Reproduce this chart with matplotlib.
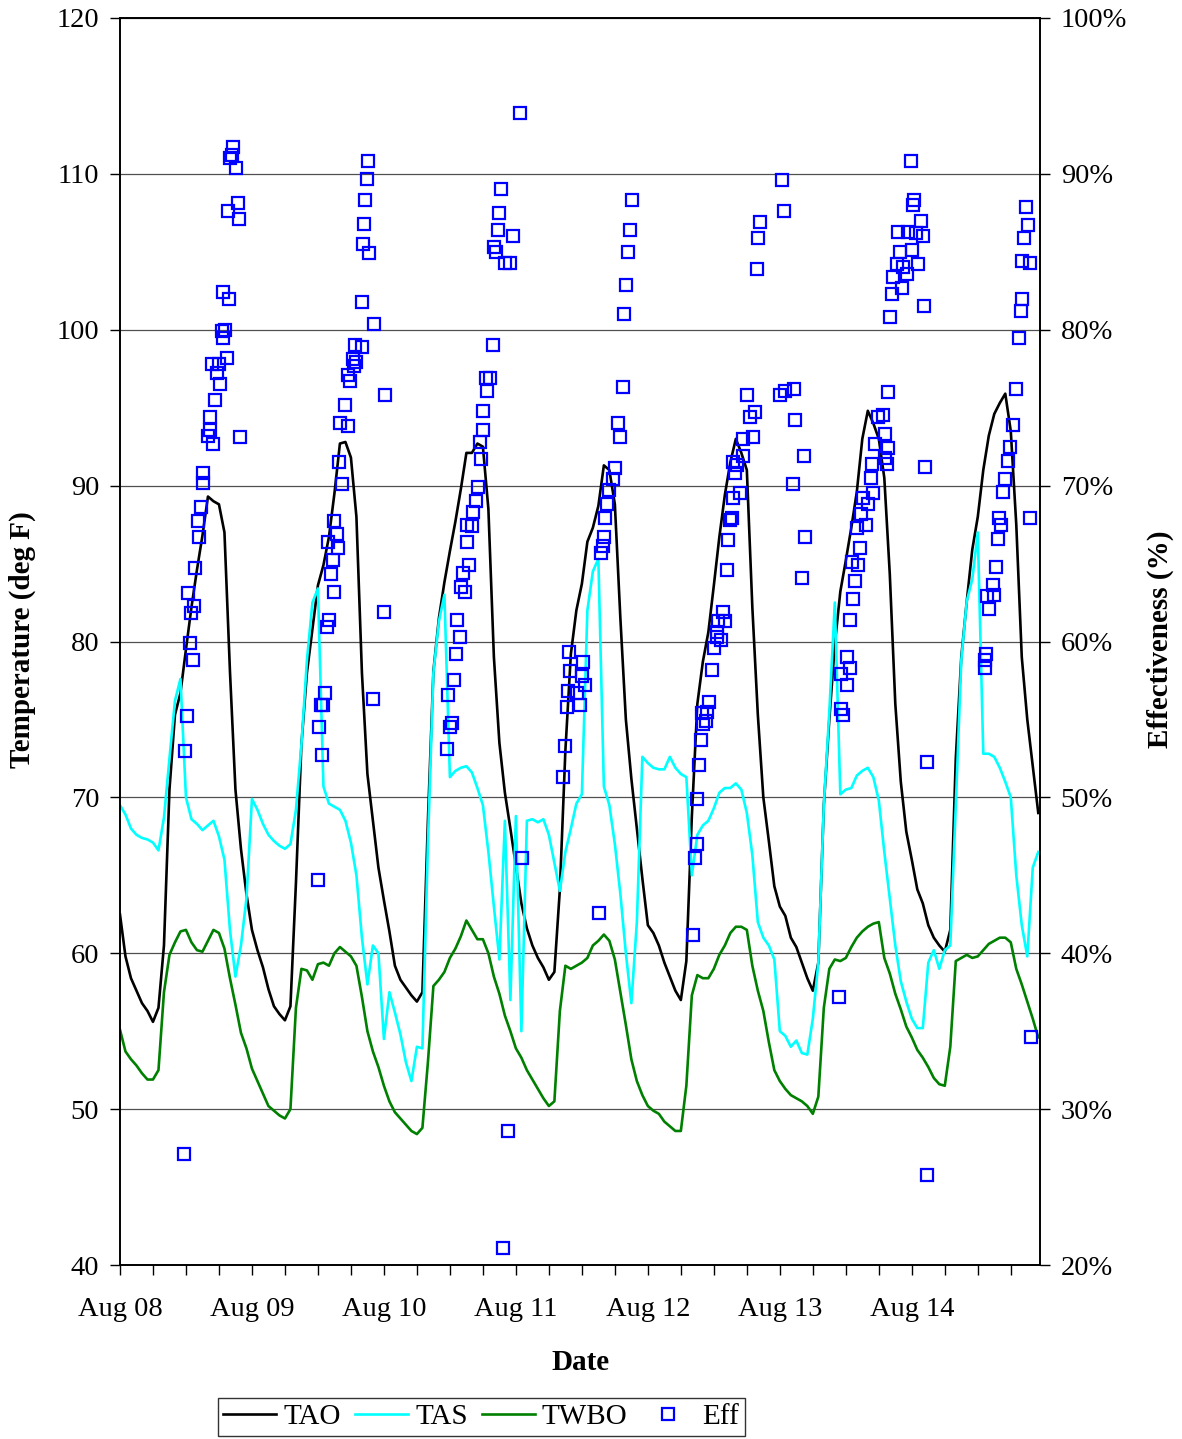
import numpy as np
import matplotlib
matplotlib.use("Agg")
import matplotlib.pyplot as plt

plt.rcParams['font.family'] = ['Liberation Serif', 'DejaVu Serif']

# ---------------- data (hourly, hour 0 = Aug 08 00:00) ----------------
day_labels = ['Aug 08', 'Aug 09', 'Aug 10', 'Aug 11', 'Aug 12', 'Aug 13', 'Aug 14']
hours = np.arange(168)

TAO = [
    62.5, 59.8, 58.4, 57.6, 56.8, 56.3, 55.6, 56.5, 60.5, 70.5,
    75.3, 76.7, 79.5, 82.2, 84.6, 86.8, 89.3, 89.0, 88.8, 87.0,
    78.1, 70.5, 66.7, 63.8, 61.5, 60.2, 59.1, 57.7, 56.6, 56.1,
    55.7, 56.6, 64.5, 73.4, 78.0, 80.8, 83.6, 84.9, 86.7, 89.5,
    92.7, 92.8, 91.8, 88.0, 78.0, 71.5, 68.5, 65.5, 63.4, 61.4,
    59.2, 58.3, 57.8, 57.3, 56.9, 57.5, 68.5, 78.1, 81.5, 83.8,
    85.8, 87.7, 89.8, 92.1, 92.1, 92.7, 92.5, 88.5, 79.0, 73.5,
    70.3, 68.0, 65.6, 63.2, 61.6, 60.5, 59.7, 59.1, 58.3, 58.8,
    64.1, 73.0, 79.2, 82.0, 83.7, 86.4, 87.3, 88.7, 91.3, 91.0,
    88.8, 81.5, 75.0, 71.2, 68.0, 64.8, 61.8, 61.3, 60.5, 59.4,
    58.5, 57.6, 57.0, 59.5, 68.8, 76.0, 78.7, 80.6, 83.6, 86.7,
    89.4, 91.5, 93.0, 92.1, 91.0, 82.2, 75.3, 70.0, 67.2, 64.3,
    63.0, 62.4, 61.0, 60.4, 59.4, 58.4, 57.6, 59.4, 69.5, 75.0,
    79.8, 83.2, 85.2, 87.3, 89.6, 93.0, 94.8, 94.0, 93.0, 90.5,
    84.3, 76.0, 71.0, 67.8, 66.0, 64.1, 63.2, 61.8, 61.0, 60.5,
    60.1, 61.5, 72.5, 79.0, 82.6, 85.9, 88.0, 91.0, 93.2, 94.6,
    95.3, 95.9, 93.5, 87.5, 79.0, 75.0, 72.0, 69.0]

TAS = [
    69.5, 68.9, 68.0, 67.6, 67.4, 67.3, 67.1, 66.6, 68.7, 72.5,
    76.2, 77.6, 70.0, 68.6, 68.3, 67.9, 68.2, 68.5, 67.5, 66.0,
    61.5, 58.5, 60.5, 63.5, 69.9, 69.2, 68.3, 67.6, 67.2, 66.9,
    66.7, 67.0, 69.2, 73.4, 78.8, 82.5, 83.4, 70.7, 69.6, 69.4,
    69.2, 68.5, 67.1, 65.0, 61.0, 58.0, 60.5, 60.0, 54.5, 57.5,
    56.2, 54.8, 53.0, 51.8, 54.0, 53.9, 67.0, 78.0, 81.3, 83.0,
    71.3, 71.7, 71.9, 72.0, 71.6, 70.6, 69.5, 66.5, 63.0, 59.6,
    68.5, 57.0, 68.8, 55.0, 68.5, 68.6, 68.4, 68.6, 67.6, 65.8,
    64.0, 66.5, 68.0, 69.6, 70.2, 82.0, 84.5, 85.3, 70.7, 69.5,
    67.0, 63.8, 60.0, 56.8, 62.0, 72.6, 72.2, 71.9, 71.8, 71.8,
    72.6, 71.9, 71.5, 71.3, 65.0, 67.6, 68.2, 68.5, 69.3, 70.3,
    70.6, 70.6, 70.9, 70.5, 69.0, 66.3, 62.0, 61.0, 60.5, 59.6,
    55.0, 54.7, 54.0, 54.4, 53.6, 53.5, 55.8, 59.4, 69.5, 75.5,
    82.5, 70.2, 70.5, 70.6, 71.4, 71.7, 71.9, 71.3, 69.8, 66.5,
    63.5, 60.5, 58.2, 56.9, 55.8, 55.2, 55.2, 59.4, 60.2, 59.0,
    60.2, 60.5, 69.5, 78.8, 82.6, 84.0, 87.0, 72.8, 72.8, 72.6,
    71.9, 71.0, 70.0, 65.0, 61.8, 59.8, 65.5, 66.5]

TWBO = [
    55.1, 53.7, 53.2, 52.8, 52.3, 51.9, 51.9, 52.5, 57.5, 59.9,
    60.7, 61.4, 61.5, 60.7, 60.2, 60.1, 60.8, 61.5, 61.3, 60.3,
    58.4, 56.7, 54.9, 53.9, 52.6, 51.8, 51.0, 50.2, 49.9, 49.6,
    49.4, 50.0, 56.5, 59.0, 58.9, 58.3, 59.3, 59.4, 59.2, 60.0,
    60.4, 60.1, 59.8, 59.2, 57.2, 55.0, 53.7, 52.7, 51.5, 50.5,
    49.8, 49.4, 49.0, 48.6, 48.4, 48.8, 53.0, 57.9, 58.3, 58.8,
    59.7, 60.3, 61.1, 62.1, 61.5, 60.9, 60.9, 60.0, 58.5, 57.4,
    56.0, 55.0, 53.9, 53.3, 52.5, 51.9, 51.3, 50.7, 50.2, 50.5,
    56.3, 59.2, 59.0, 59.2, 59.4, 59.7, 60.5, 60.8, 61.2, 60.8,
    59.6, 57.5, 55.4, 53.2, 51.8, 50.9, 50.2, 49.9, 49.7, 49.2,
    48.9, 48.6, 48.6, 51.5, 57.3, 58.6, 58.4, 58.4, 59.0, 59.9,
    60.5, 61.3, 61.7, 61.7, 61.5, 59.2, 57.6, 56.3, 54.3, 52.5,
    51.8, 51.3, 50.9, 50.7, 50.5, 50.2, 49.7, 50.8, 56.5, 59.0,
    59.6, 59.5, 59.7, 60.4, 61.0, 61.4, 61.7, 61.9, 62.0, 59.7,
    58.7, 57.4, 56.4, 55.3, 54.6, 53.8, 53.3, 52.7, 52.0, 51.6,
    51.5, 54.0, 59.5, 59.7, 59.9, 59.7, 59.8, 60.2, 60.6, 60.8,
    61.0, 61.0, 60.7, 59.0, 58.0, 56.9, 55.8, 54.6]

# Effectiveness points: time (hours from Aug 08 00:00) and value (%)
eff_time = [
    # Aug 08
    11.64, 11.82, 12.24, 12.42, 12.73, 12.85, 13.22, 13.45, 13.69, 14.24,
    14.42, 14.67, 15.04, 15.15, 16.05, 16.36, 16.36, 16.96, 17.33, 16.67,
    17.58, 18.05, 18.18, 18.49, 18.78, 19.09, 19.51, 18.67, 19.87, 19.69,
    20.00, 20.31, 20.49, 21.09, 21.51, 21.69, 21.82,
    # Aug 09
    36.05, 36.24, 36.55, 36.78, 36.96, 37.27, 37.69, 37.87, 37.95, 38.36,
    38.78, 38.91, 38.96, 39.40, 39.69, 39.76, 40.00, 40.42, 40.91, 41.51,
    41.51, 41.82, 42.31, 42.55, 42.73, 42.91, 43.95, 43.95, 44.13, 44.36,
    44.55, 44.85, 45.04, 45.33, 46.05, 46.18, 48.05, 48.18,
    # Aug 10
    59.40, 59.69, 60.00, 60.31, 60.73, 61.09, 61.33, 61.82, 61.95, 62.42,
    62.73, 63.04, 63.15, 63.51, 63.95, 64.24, 64.73, 65.15, 65.45, 65.58,
    65.95, 66.05, 66.55, 66.78, 67.27, 67.76, 68.00, 68.36, 68.67, 68.96,
    69.22, 69.69, 70.00, 70.49, 70.91, 71.51, 72.73, 73.04,
    # Aug 11
    80.60, 80.91, 81.22, 81.51, 81.64, 81.82, 83.04, 83.64, 83.95, 84.24,
    84.55, 87.15, 87.40, 87.76, 88.00, 88.18, 88.60, 88.96, 89.69, 90.00,
    90.60, 90.91, 91.40, 91.64, 92.00, 92.42, 92.73, 93.04,
    # Aug 12
    104.24, 104.55, 104.85, 104.96, 105.33, 105.58, 105.76, 106.05, 106.55, 106.67,
    107.15, 107.69, 108.00, 108.49, 108.60, 108.78, 109.22, 109.69, 110.00, 110.31,
    110.60, 110.91, 111.22, 111.40, 111.51, 111.82, 112.24, 112.73, 113.22, 113.33,
    113.95, 114.55, 115.15, 115.45, 115.76, 115.95, 116.36, 120.00, 120.31, 120.78,
    120.91, 122.31, 122.55, 122.73, 124.05, 124.42, 124.55,
    # Aug 13
    130.73, 131.09, 131.09, 131.51, 132.13, 132.13, 132.73, 132.73, 133.04, 133.33,
    133.76, 133.95, 134.24, 134.55, 134.85, 135.15, 135.76, 136.05, 136.55, 136.78,
    136.96, 137.27, 137.87, 138.78, 139.09, 139.09, 139.40, 139.69, 139.69, 140.00,
    140.31, 140.60, 141.22, 141.51, 141.82, 142.13, 142.42, 143.04, 143.33, 143.82,
    143.95, 144.24, 144.42, 144.85, 145.15, 145.76, 146.05, 146.24, 146.49, 146.78,
    146.85,
    # Aug 14
    157.27, 157.27, 157.58, 157.76, 158.00, 158.78, 158.96, 159.40, 159.69, 159.82,
    160.31, 160.60, 160.91, 161.51, 161.82, 162.42, 163.04, 163.45, 163.82, 163.95,
    164.05, 164.42, 164.85, 165.15, 165.45, 165.45, 165.76]

eff_value = [
    # Aug 08
    27.1, 53.0, 55.2, 63.1, 59.9, 61.8, 58.8, 62.3, 64.7, 67.7,
    66.7, 68.6, 70.8, 70.2, 73.2, 73.6, 74.4, 72.7, 75.5, 77.8,
    77.2, 77.8, 76.5, 79.9, 79.5, 80.0, 78.2, 82.4, 82.0, 87.6,
    91.0, 91.2, 91.7, 90.4, 88.1, 87.1, 73.1,
    # Aug 09
    44.7, 54.5, 55.9, 52.7, 55.9, 56.7, 60.9, 66.4, 61.4, 64.3,
    65.2, 63.2, 67.7, 66.9, 66.0, 71.5, 74.0, 70.1, 75.2, 73.8,
    77.1, 76.7, 78.1, 77.7, 79.0, 77.9, 78.9, 81.8, 85.5, 86.8,
    88.3, 89.7, 90.8, 84.9, 56.3, 80.4, 61.9, 75.8,
    # Aug 10
    53.1, 56.6, 54.5, 54.8, 57.5, 59.2, 61.4, 60.3, 63.5, 64.4,
    63.2, 67.5, 66.4, 64.9, 67.4, 68.3, 69.0, 69.9, 72.8, 71.7,
    73.6, 74.8, 76.9, 76.1, 76.9, 79.0, 85.3, 85.0, 86.4, 87.5,
    89.0, 21.1, 84.3, 28.6, 84.3, 86.0, 93.9, 46.1,
    # Aug 11
    51.3, 53.3, 55.8, 56.8, 59.3, 58.1, 56.7, 55.9, 57.8, 58.7,
    57.2, 42.6, 65.7, 66.1, 66.7, 67.9, 68.8, 69.7, 70.4, 71.1,
    74.0, 73.1, 76.3, 81.0, 82.9, 85.0, 86.4, 88.3,
    # Aug 12
    41.2, 46.1, 47.0, 49.9, 52.1, 53.7, 55.4, 54.7, 54.9, 55.5,
    56.1, 58.2, 59.6, 60.3, 60.6, 61.3, 60.1, 61.9, 61.3, 64.6,
    66.5, 67.8, 67.9, 69.2, 71.5, 70.8, 71.3, 69.5, 71.9, 73.0,
    75.8, 74.4, 73.1, 74.7, 83.9, 85.9, 86.9, 75.8, 89.6, 87.6,
    76.1, 70.1, 76.2, 74.2, 64.1, 71.9, 66.7,
    # Aug 13
    37.2, 55.7, 57.9, 55.3, 57.2, 59.0, 58.3, 61.4, 65.1, 62.7,
    63.9, 67.3, 64.9, 66.0, 68.2, 69.2, 67.5, 68.8, 70.5, 71.4,
    69.5, 72.7, 74.4, 74.5, 73.3, 71.8, 71.4, 72.4, 76.0, 80.8,
    82.3, 83.4, 84.2, 86.3, 85.0, 82.7, 84.0, 83.6, 86.3, 90.8,
    85.1, 88.0, 88.3, 86.2, 84.2, 87.0, 86.0, 81.5, 71.2, 52.3,
    25.8,
    # Aug 14
    58.3, 58.8, 59.2, 62.9, 62.1, 63.6, 63.0, 64.8, 66.6, 67.9,
    67.5, 69.6, 70.4, 71.6, 72.5, 73.9, 76.2, 79.5, 81.2, 82.0,
    84.4, 85.9, 87.9, 86.7, 84.3, 67.9, 34.6]

temp_ticks = [40, 50, 60, 70, 80, 90, 100, 110, 120]
eff_ticks = [20, 30, 40, 50, 60, 70, 80, 90, 100]

# ---------------- figure ----------------
fig = plt.figure(figsize=(11.82, 14.39), dpi=100)
ax = fig.add_axes([0.1015, 0.1209, 0.7783, 0.8666])

ax.set_xlim(0, 167.3)
ax.set_ylim(40, 120)
ax.set_yticks(temp_ticks)
ax.set_yticklabels([str(t) for t in temp_ticks])
ax.set_xticks(np.arange(0, 168, 24))
ax.set_xticklabels(day_labels)
ax.set_xticks(np.arange(0, 167, 6), minor=True)
ax.grid(axis='y', color='#505050', lw=0.9)
ax.set_axisbelow(True)

l1, = ax.plot(hours, TAO, color='black', lw=1.9, label='TAO')
l2, = ax.plot(hours, TAS, color='#00FFFF', lw=1.9, label='TAS')
l3, = ax.plot(hours, TWBO, color='#008000', lw=1.9, label='TWBO')

ax2 = ax.twinx()
ax2.set_ylim(20, 100)
ax2.set_yticks(eff_ticks)
ax2.set_yticklabels([f'{e}%' for e in eff_ticks])
l4, = ax2.plot(eff_time, eff_value, ls='none', marker='s', mfc='none',
               mec='#0000FF', ms=9, mew=1.6, label='Eff')

for a in (ax, ax2):
    for s in a.spines.values():
        s.set_color('black')
        s.set_linewidth(1.2)

ax.tick_params(axis='y', which='major', direction='out', length=7, width=1,
               labelsize=20.5, pad=8)
ax.tick_params(axis='x', which='both', direction='out', length=7, width=1,
               labelsize=20.5, pad=16)
ax2.tick_params(axis='y', which='major', direction='out', length=7, width=1,
                labelsize=20.5, pad=8)

fig.text(0.0186, 0.5557, 'Temperature (deg F)', rotation=90, ha='center',
         va='center', fontsize=21, fontweight='bold')
fig.text(0.982, 0.5557, 'Effectiveness (%)', rotation=90, ha='center',
         va='center', fontsize=21, fontweight='bold')
fig.text(0.4907, 0.0535, 'Date', ha='center', va='center', fontsize=21,
         fontweight='bold')

leg = fig.legend(handles=[l1, l2, l3, l4], labels=['TAO', 'TAS', 'TWBO', 'Eff'],
                 loc='center', bbox_to_anchor=(0.407, 0.0155), ncol=4,
                 fontsize=21, frameon=True, fancybox=False, shadow=False,
                 handlelength=1.8, handletextpad=0.25, columnspacing=0.5,
                 borderpad=0.2, borderaxespad=0.0)
leg.get_frame().set_edgecolor('black')
leg.get_frame().set_linewidth(1.0)

fig.savefig('out.png', dpi=100)
